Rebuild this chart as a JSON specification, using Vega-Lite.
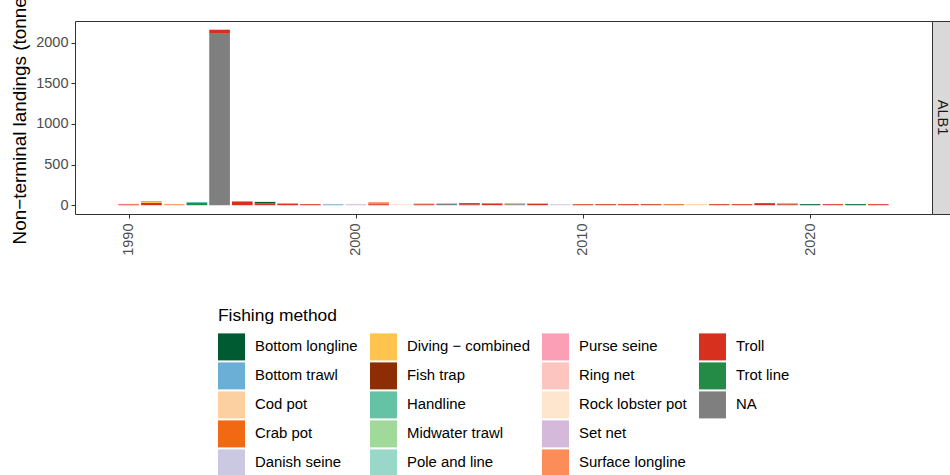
{
  "$schema": "https://vega.github.io/schema/vega-lite/v6.json",
  "bounds": "flush",
  "padding": {"left": 9, "top": -20, "right": 0, "bottom": 0},
  "spacing": 0,
  "background": "white",
  "config": {
    "font": "Liberation Sans",
    "view": {"stroke": "#333333", "strokeWidth": 1},
    "axis": {"grid": false, "domain": false, "tickColor": "#333333", "tickSize": 4, "labelColor": "#4D4D4D", "labelFontSize": 14.5, "titleFontWeight": "normal", "titleColor": "#000000", "titleFontSize": 18.9},
    "legend": {"titleFontWeight": "normal", "titleFontSize": 17.4, "titleColor": "#000000", "labelFontSize": 14.9, "labelColor": "#000000"}
  },
  "datasets": {
    "landings": [
      {"year": 1990, "method": "Troll", "tonnes": 12},
      {"year": 1990, "method": "Ring net", "tonnes": 6},
      {"year": 1991, "method": "Troll", "tonnes": 28},
      {"year": 1991, "method": "Diving − combined", "tonnes": 15},
      {"year": 1991, "method": "Bottom trawl", "tonnes": 9},
      {"year": 1992, "method": "Surface longline", "tonnes": 13},
      {"year": 1993, "method": "Handline", "tonnes": 12},
      {"year": 1993, "method": "Troll", "tonnes": 12},
      {"year": 1993, "method": "Trot line", "tonnes": 15},
      {"year": 1994, "method": "NA", "tonnes": 2111},
      {"year": 1994, "method": "Troll", "tonnes": 50},
      {"year": 1995, "method": "Surface longline", "tonnes": 12},
      {"year": 1995, "method": "Troll", "tonnes": 40},
      {"year": 1996, "method": "Bottom longline", "tonnes": 16},
      {"year": 1996, "method": "Troll", "tonnes": 25},
      {"year": 1997, "method": "Surface longline", "tonnes": 9},
      {"year": 1997, "method": "Troll", "tonnes": 16},
      {"year": 1998, "method": "Troll", "tonnes": 13},
      {"year": 1999, "method": "Bottom trawl", "tonnes": 13},
      {"year": 2000, "method": "Set net", "tonnes": 13},
      {"year": 2001, "method": "Surface longline", "tonnes": 25},
      {"year": 2001, "method": "Troll", "tonnes": 13},
      {"year": 2002, "method": "Rock lobster pot", "tonnes": 13},
      {"year": 2003, "method": "Pole and line", "tonnes": 12},
      {"year": 2003, "method": "Troll", "tonnes": 12},
      {"year": 2004, "method": "Purse seine", "tonnes": 9},
      {"year": 2004, "method": "NA", "tonnes": 16},
      {"year": 2005, "method": "Bottom longline", "tonnes": 12},
      {"year": 2005, "method": "Troll", "tonnes": 12},
      {"year": 2006, "method": "Surface longline", "tonnes": 6},
      {"year": 2006, "method": "Troll", "tonnes": 20},
      {"year": 2007, "method": "Surface longline", "tonnes": 12},
      {"year": 2007, "method": "NA", "tonnes": 12},
      {"year": 2008, "method": "Purse seine", "tonnes": 9},
      {"year": 2008, "method": "Troll", "tonnes": 16},
      {"year": 2009, "method": "Danish seine", "tonnes": 13},
      {"year": 2010, "method": "Troll", "tonnes": 13},
      {"year": 2011, "method": "Troll", "tonnes": 13},
      {"year": 2012, "method": "Troll", "tonnes": 13},
      {"year": 2013, "method": "Troll", "tonnes": 13},
      {"year": 2014, "method": "Crab pot", "tonnes": 13},
      {"year": 2015, "method": "Cod pot", "tonnes": 13},
      {"year": 2016, "method": "Troll", "tonnes": 13},
      {"year": 2017, "method": "Troll", "tonnes": 13},
      {"year": 2018, "method": "Fish trap", "tonnes": 9},
      {"year": 2018, "method": "Troll", "tonnes": 16},
      {"year": 2019, "method": "Handline", "tonnes": 12},
      {"year": 2019, "method": "Troll", "tonnes": 12},
      {"year": 2020, "method": "Bottom longline", "tonnes": 13},
      {"year": 2021, "method": "Troll", "tonnes": 13},
      {"year": 2022, "method": "Bottom longline", "tonnes": 13},
      {"year": 2023, "method": "Troll", "tonnes": 13}
    ],
    "panel": [{"panel": "ALB1"}]
  },
  "hconcat": [
    {
      "width": 857,
      "height": 193,
      "data": {"name": "landings"},
      "transform": [
        {"calculate": "indexof(['Bottom longline','Bottom trawl','Cod pot','Crab pot','Danish seine','Diving − combined','Fish trap','Handline','Midwater trawl','Pole and line','Purse seine','Ring net','Rock lobster pot','Set net','Surface longline','Troll','Trot line','NA'], datum.method)", "as": "stackrank"}
      ],
      "mark": {"type": "bar", "size": 20.7},
      "encoding": {
        "x": {
          "field": "year", "type": "quantitative",
          "scale": {"domain": [1987.855, 2025.145], "nice": false, "zero": false},
          "axis": {"values": [1990, 2000, 2010, 2020], "format": "d", "labelAngle": 270, "title": null, "labelPadding": 5}
        },
        "y": {
          "field": "tonnes", "type": "quantitative", "stack": "zero",
          "scale": {"domain": [-108, 2268], "nice": false, "zero": false},
          "axis": {"values": [0, 500, 1000, 1500, 2000], "format": "d", "title": "Non−terminal landings (tonnes)", "labelPadding": 3, "titleX": -56, "titleY": 91.5, "titleAngle": 270, "titleAlign": "center", "titleBaseline": "middle"}
        },
        "color": {
          "field": "method", "type": "nominal",
          "scale": {
            "domain": ["Bottom longline", "Bottom trawl", "Cod pot", "Crab pot", "Danish seine", "Diving − combined", "Fish trap", "Handline", "Midwater trawl", "Pole and line", "Purse seine", "Ring net", "Rock lobster pot", "Set net", "Surface longline", "Troll", "Trot line", "NA", " "],
            "range": ["#005A32", "#6BAED6", "#FDD0A2", "#F16913", "#CBC9E2", "#FEC44F", "#8C2D04", "#66C2A4", "#A1D99B", "#99D8C9", "#FA9FB5", "#FCC5C0", "#FEE6CE", "#D4B9DA", "#FC8D59", "#D7301F", "#238B45", "#7F7F7F", "transparent"]
          },
          "legend": {
            "title": "Fishing method", "orient": "none", "legendX": 143, "legendY": 286,
            "columns": 4, "direction": "vertical", "symbolType": "square", "symbolSize": 729, "symbolStrokeWidth": 0,
            "labelOffset": 10, "columnPadding": 12, "rowPadding": 2, "titlePadding": 9
          }
        },
        "order": {"field": "stackrank", "type": "quantitative", "sort": "descending"}
      }
    },
    {
      "width": 19,
      "height": 193,
      "data": {"name": "panel"},
      "view": {"fill": "#D9D9D9", "stroke": "#333333"},
      "mark": {"type": "text", "angle": 90, "fontSize": 14.5, "color": "#1A1A1A", "align": "center", "baseline": "middle"},
      "encoding": {"text": {"field": "panel", "type": "nominal"}}
    }
  ]
}
